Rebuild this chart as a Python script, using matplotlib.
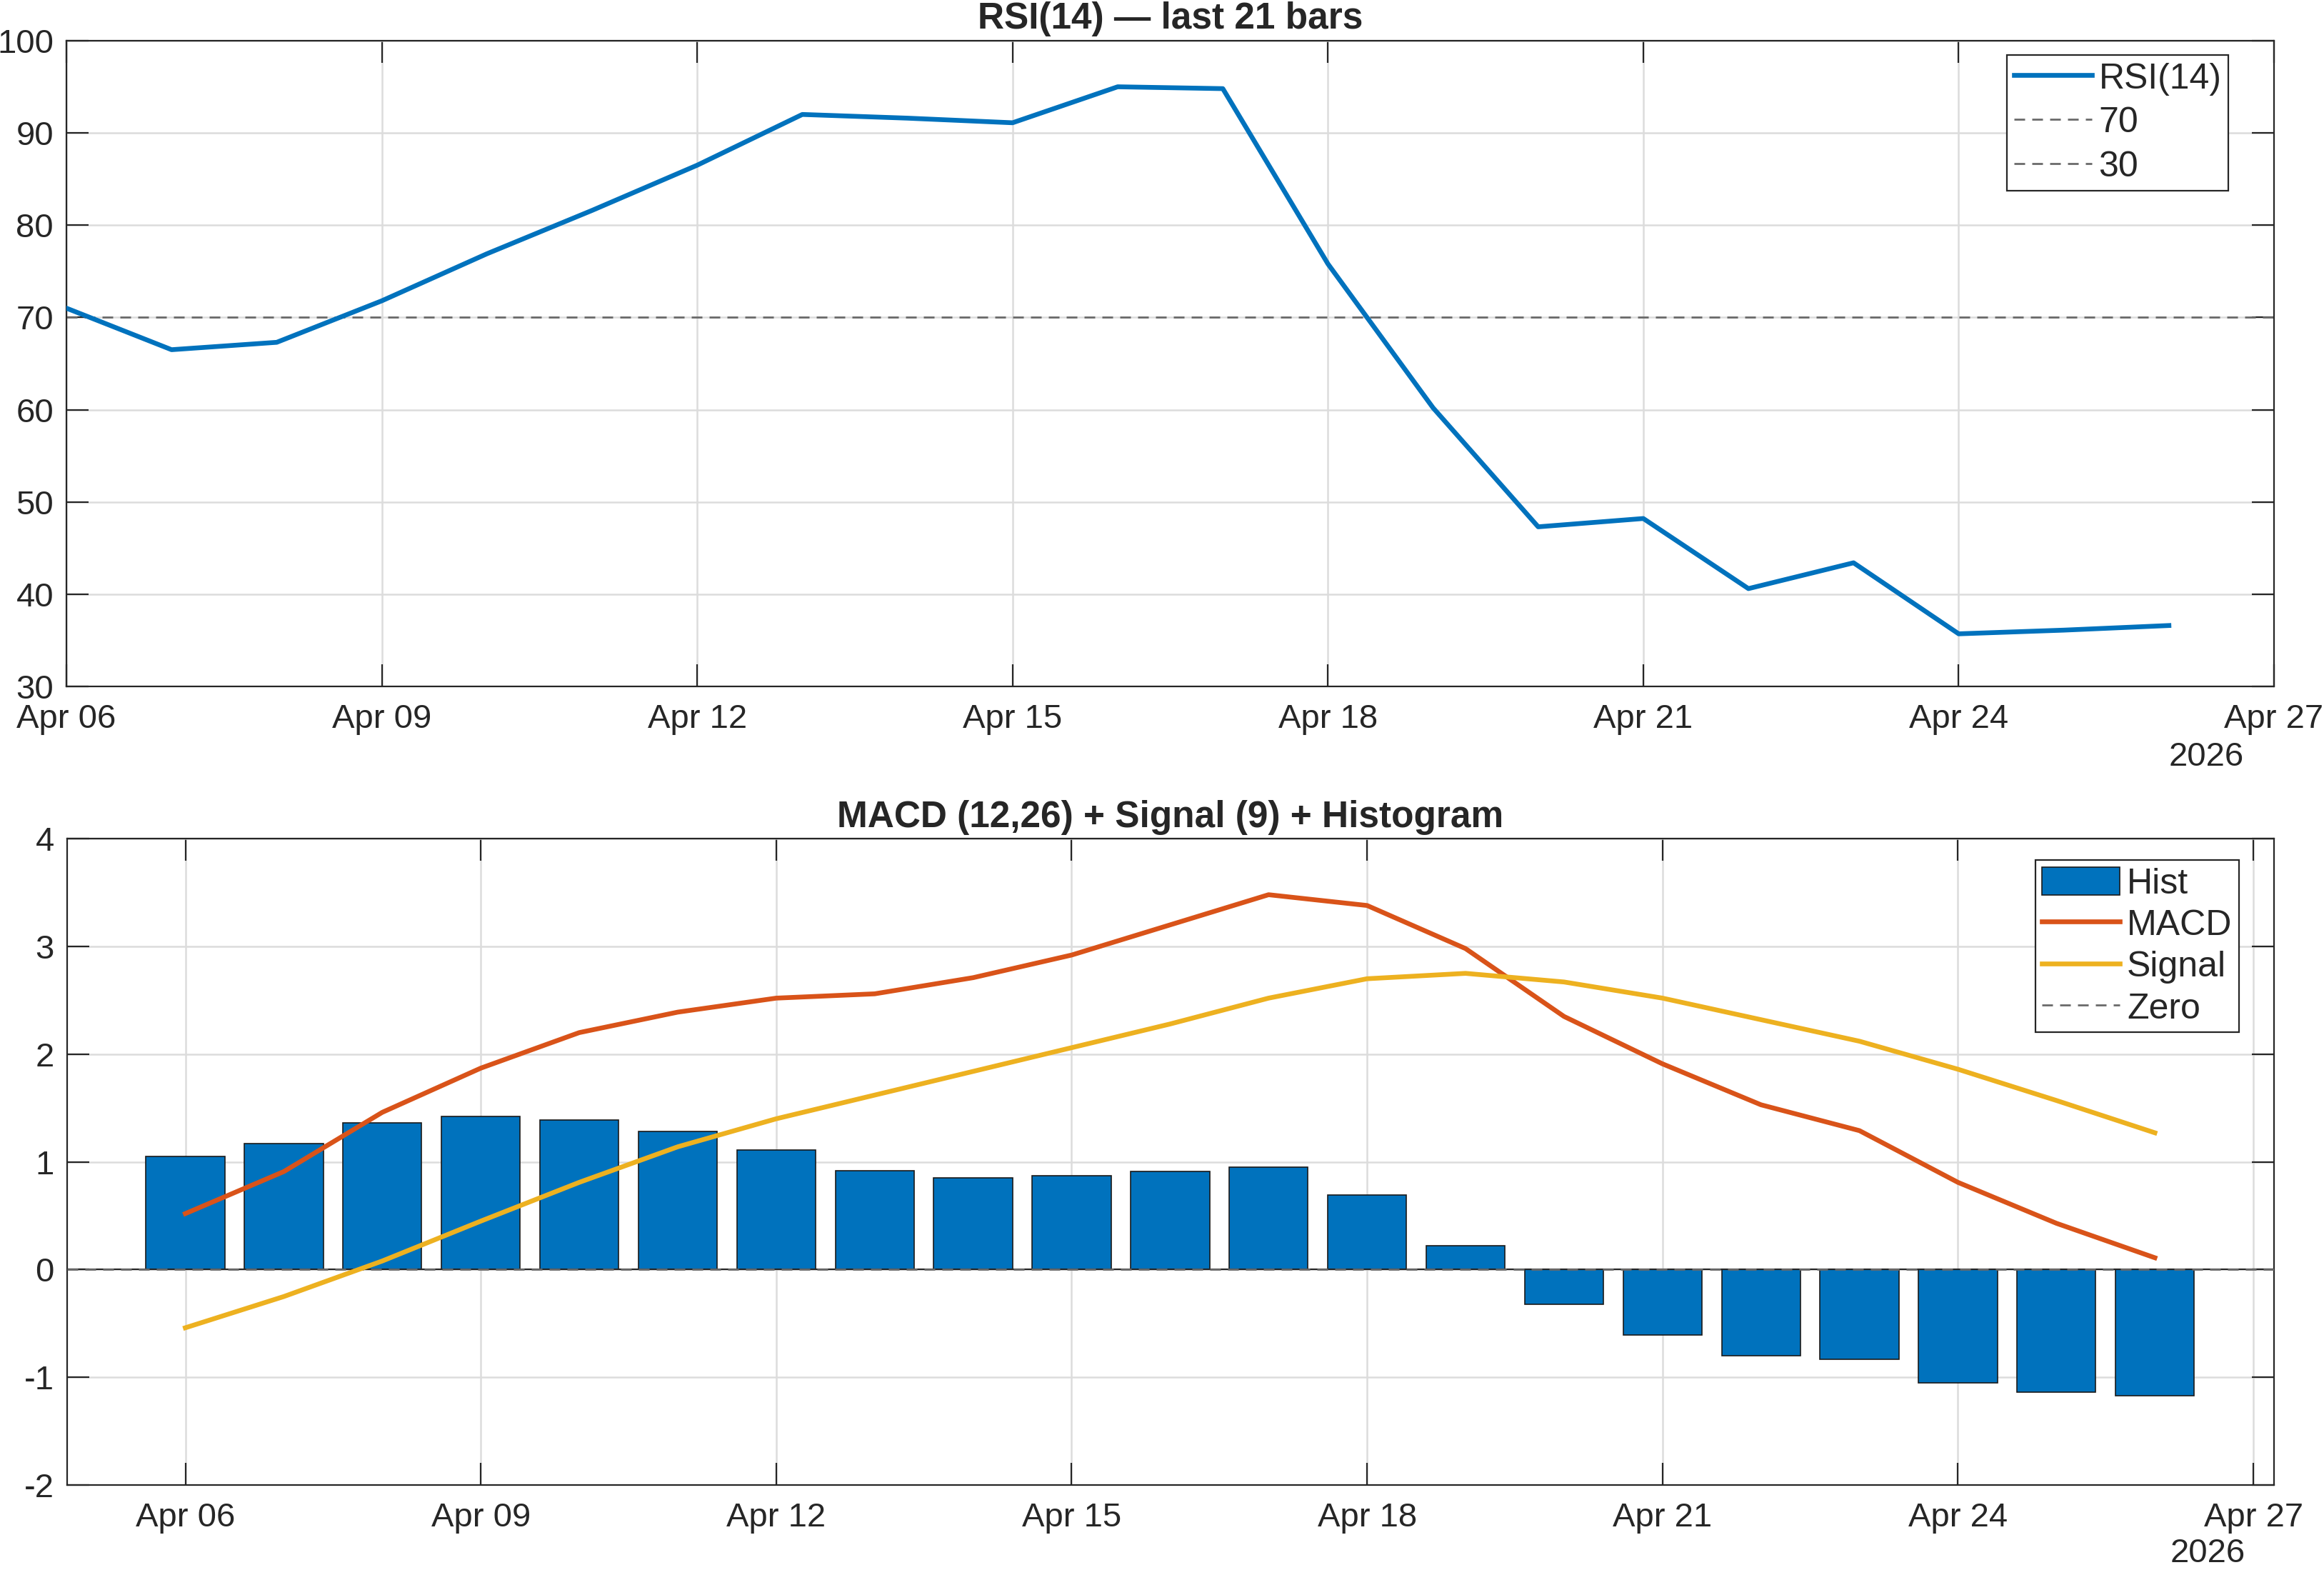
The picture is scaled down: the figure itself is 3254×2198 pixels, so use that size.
import matplotlib
matplotlib.use('Agg')
import matplotlib.pyplot as plt
import matplotlib.dates as mdates
import numpy as np

# ---------------- data ----------------
dates = ['2026-04-06', '2026-04-07', '2026-04-08', '2026-04-09', '2026-04-10', '2026-04-11',
         '2026-04-12', '2026-04-13', '2026-04-14', '2026-04-15', '2026-04-16', '2026-04-17',
         '2026-04-18', '2026-04-19', '2026-04-20', '2026-04-21', '2026-04-22', '2026-04-23',
         '2026-04-24', '2026-04-25', '2026-04-26']
rsi = [71.0, 66.5, 67.3, 71.8, 76.9, 81.6, 86.5, 92.0, 91.6, 91.1, 95.0, 94.8,
       75.8, 60.2, 47.3, 48.2, 40.6, 43.4, 35.7, 36.1, 36.6]
hist = [1.05, 1.17, 1.36, 1.42, 1.39, 1.28, 1.11, 0.92, 0.85, 0.87, 0.91, 0.95,
        0.69, 0.22, -0.32, -0.61, -0.80, -0.83, -1.05, -1.14, -1.17]
macd = [0.52, 0.91, 1.46, 1.87, 2.20, 2.39, 2.52, 2.56, 2.71, 2.92, 3.20, 3.48,
        3.38, 2.98, 2.35, 1.91, 1.53, 1.29, 0.81, 0.43, 0.11]
signal = [-0.54, -0.25, 0.08, 0.45, 0.81, 1.14, 1.40, 1.62, 1.84, 2.06, 2.28, 2.52,
          2.70, 2.75, 2.67, 2.52, 2.32, 2.12, 1.86, 1.57, 1.27]
rsi_levels = [70, 30]
tick_dates = ['2026-04-06', '2026-04-09', '2026-04-12', '2026-04-15', '2026-04-18',
              '2026-04-21', '2026-04-24', '2026-04-27']
rsi_yticks = [30, 40, 50, 60, 70, 80, 90, 100]
macd_yticks = [-2, -1, 0, 1, 2, 3, 4]
rsi_title = 'RSI(14) — last 21 bars'
macd_title = 'MACD (12,26) + Signal (9) + Histogram'
year_label = '2026'

# ---------------- style ----------------
plt.rcParams['font.family'] = ['Liberation Sans', 'DejaVu Sans']
plt.rcParams['axes.unicode_minus'] = False
AX = '#262626'
GRID = '#dcdcdc'
BLUE = '#0072BD'
ORANGE = '#D95319'
YELLOW = '#EDB120'
DASH = '#6a6a6a'
TICKFS = 17
LEGFS = 18
TITLEFS = 18.5
TICKLEN = 11.2
LW = 2.4

x = mdates.date2num(np.array(dates, dtype='datetime64[D]'))
xt = mdates.date2num(np.array(tick_dates, dtype='datetime64[D]'))

fig = plt.figure(figsize=(16.27, 10.99), dpi=200)
ax1 = fig.add_axes([0.0286, 0.5628, 0.9499, 0.4113])
ax2 = fig.add_axes([0.0289, 0.0541, 0.9496, 0.4117])


def style(ax):
    for s in ax.spines.values():
        s.set_color(AX)
        s.set_linewidth(0.8)
    ax.tick_params(direction='in', length=TICKLEN, width=0.8, color=AX,
                   labelcolor=AX, labelsize=TICKFS, top=True, right=True)
    ax.tick_params(axis='x', pad=8.5)
    ax.tick_params(axis='y', pad=6.5)
    ax.grid(True, color=GRID, linewidth=0.9)
    ax.set_axisbelow(True)
    ax.xaxis.set_major_formatter(mdates.DateFormatter('%b %d'))
    ax.set_xticks(xt)


def legend(ax, handles, anchor, spacing):
    leg = ax.legend(handles=handles, loc='upper right', bbox_to_anchor=anchor,
                    borderaxespad=0, fontsize=LEGFS, handlelength=2.18,
                    handletextpad=0.2, labelspacing=spacing, handleheight=0.85,
                    borderpad=0.19, fancybox=False, framealpha=1, edgecolor=AX)
    leg.get_frame().set_linewidth(0.8)
    for t in leg.get_texts():
        t.set_color(AX)
    return leg


# ---- RSI ----
style(ax1)
h_rsi, = ax1.plot(x, rsi, color=BLUE, linewidth=LW, label='RSI(14)', zorder=3)
h_lv = []
for lv in rsi_levels:
    h = ax1.axhline(lv, color=DASH, linewidth=1.0, dashes=(5.4, 3.6),
                    label=str(lv), zorder=2)
    h_lv.append(h)
ax1.set_xlim(xt[0], xt[-1])
ax1.set_ylim(30, 100)
ax1.set_yticks(rsi_yticks)
ax1.set_title(rsi_title, fontsize=TITLEFS, fontweight='bold', color=AX, pad=6)
legend(ax1, [h_rsi] + h_lv, (0.9793, 0.9779), 0.29)

# ---- MACD ----
style(ax2)
h_bar = ax2.bar(x, hist, width=0.8, color=BLUE, edgecolor='#1a1a1a', linewidth=0.6,
                label='Hist', zorder=2)
ax2.axhline(0, color=AX, linewidth=0.8, zorder=2.5)
h_macd, = ax2.plot(x, macd, color=ORANGE, linewidth=LW, label='MACD', zorder=3)
h_sig, = ax2.plot(x, signal, color=YELLOW, linewidth=LW, label='Signal', zorder=3)
h_zero = ax2.axhline(0, color=DASH, linewidth=1.0, dashes=(5.4, 3.6), label='Zero',
                     zorder=2.6)
ax2.set_xlim(x[0] - 1.2, x[0] + 21.21)
ax2.set_ylim(-2, 4)
ax2.set_yticks(macd_yticks)
ax2.set_title(macd_title, fontsize=TITLEFS, fontweight='bold', color=AX, pad=6)
legend(ax2, [h_bar, h_macd, h_sig, h_zero], (0.9841, 0.9669), 0.22)

# year labels
fig.text(0.9656, 0.5177, year_label, fontsize=TICKFS, color=AX, ha='right', va='center')
fig.text(0.9662, 0.0105, year_label, fontsize=TICKFS, color=AX, ha='right', va='center')

fig.savefig('out.png', dpi=200, facecolor='white')
